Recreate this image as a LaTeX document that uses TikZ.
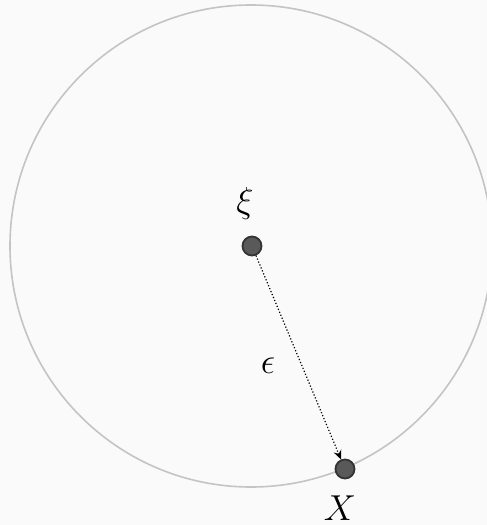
\documentclass[tikz,border=0pt]{standalone}
\usetikzlibrary{arrows.meta}

\definecolor{bgGray}{HTML}{FAFAFA}
\definecolor{ringGray}{HTML}{C4C4C4}
\definecolor{dotFill}{HTML}{595959}
\definecolor{dotLine}{HTML}{333333}

\tikzset{
  pointdot/.style={circle, fill=dotFill, draw=dotLine, line width=1.8pt,
    minimum size=19pt, inner sep=0pt},
  symlabel/.style={font=\Huge, scale=1.45, transform shape, inner sep=0pt},
}

\begin{document}
\begin{tikzpicture}[x=1pt, y=-1pt]

  %% ════ 背景 ════
  \fill[bgGray] (0,0) rectangle (487,525);

  %% ════ 大圆 ════
  \begin{scope}
    \clip (0,0) rectangle (487,525);
    \draw[ringGray, line width=1.6pt] (251.0,246.0) circle (241.0);
  \end{scope}

  %% ════ 点与标签 ════
  \node[pointdot] (xi) at (252.0,246.0) {};
  \node[pointdot] (X) at (345.0,469.0) {};
  \node[symlabel] (xilab) at (245.0,203.0) {$\xi$};
  \node[symlabel] (eplab) at (268.0,366.0) {$\epsilon$};
  \node[symlabel] (Xlab) at (340.0,508.0) {$X$};

  %% ════ 箭头 ════
  \draw[line width=1.2pt, dotted, -{Stealth[length=9pt, width=8pt]}] (xi) -- (X);

  \pgfresetboundingbox
  \path[use as bounding box] (0,0) rectangle (487,525);
\end{tikzpicture}
\end{document}
